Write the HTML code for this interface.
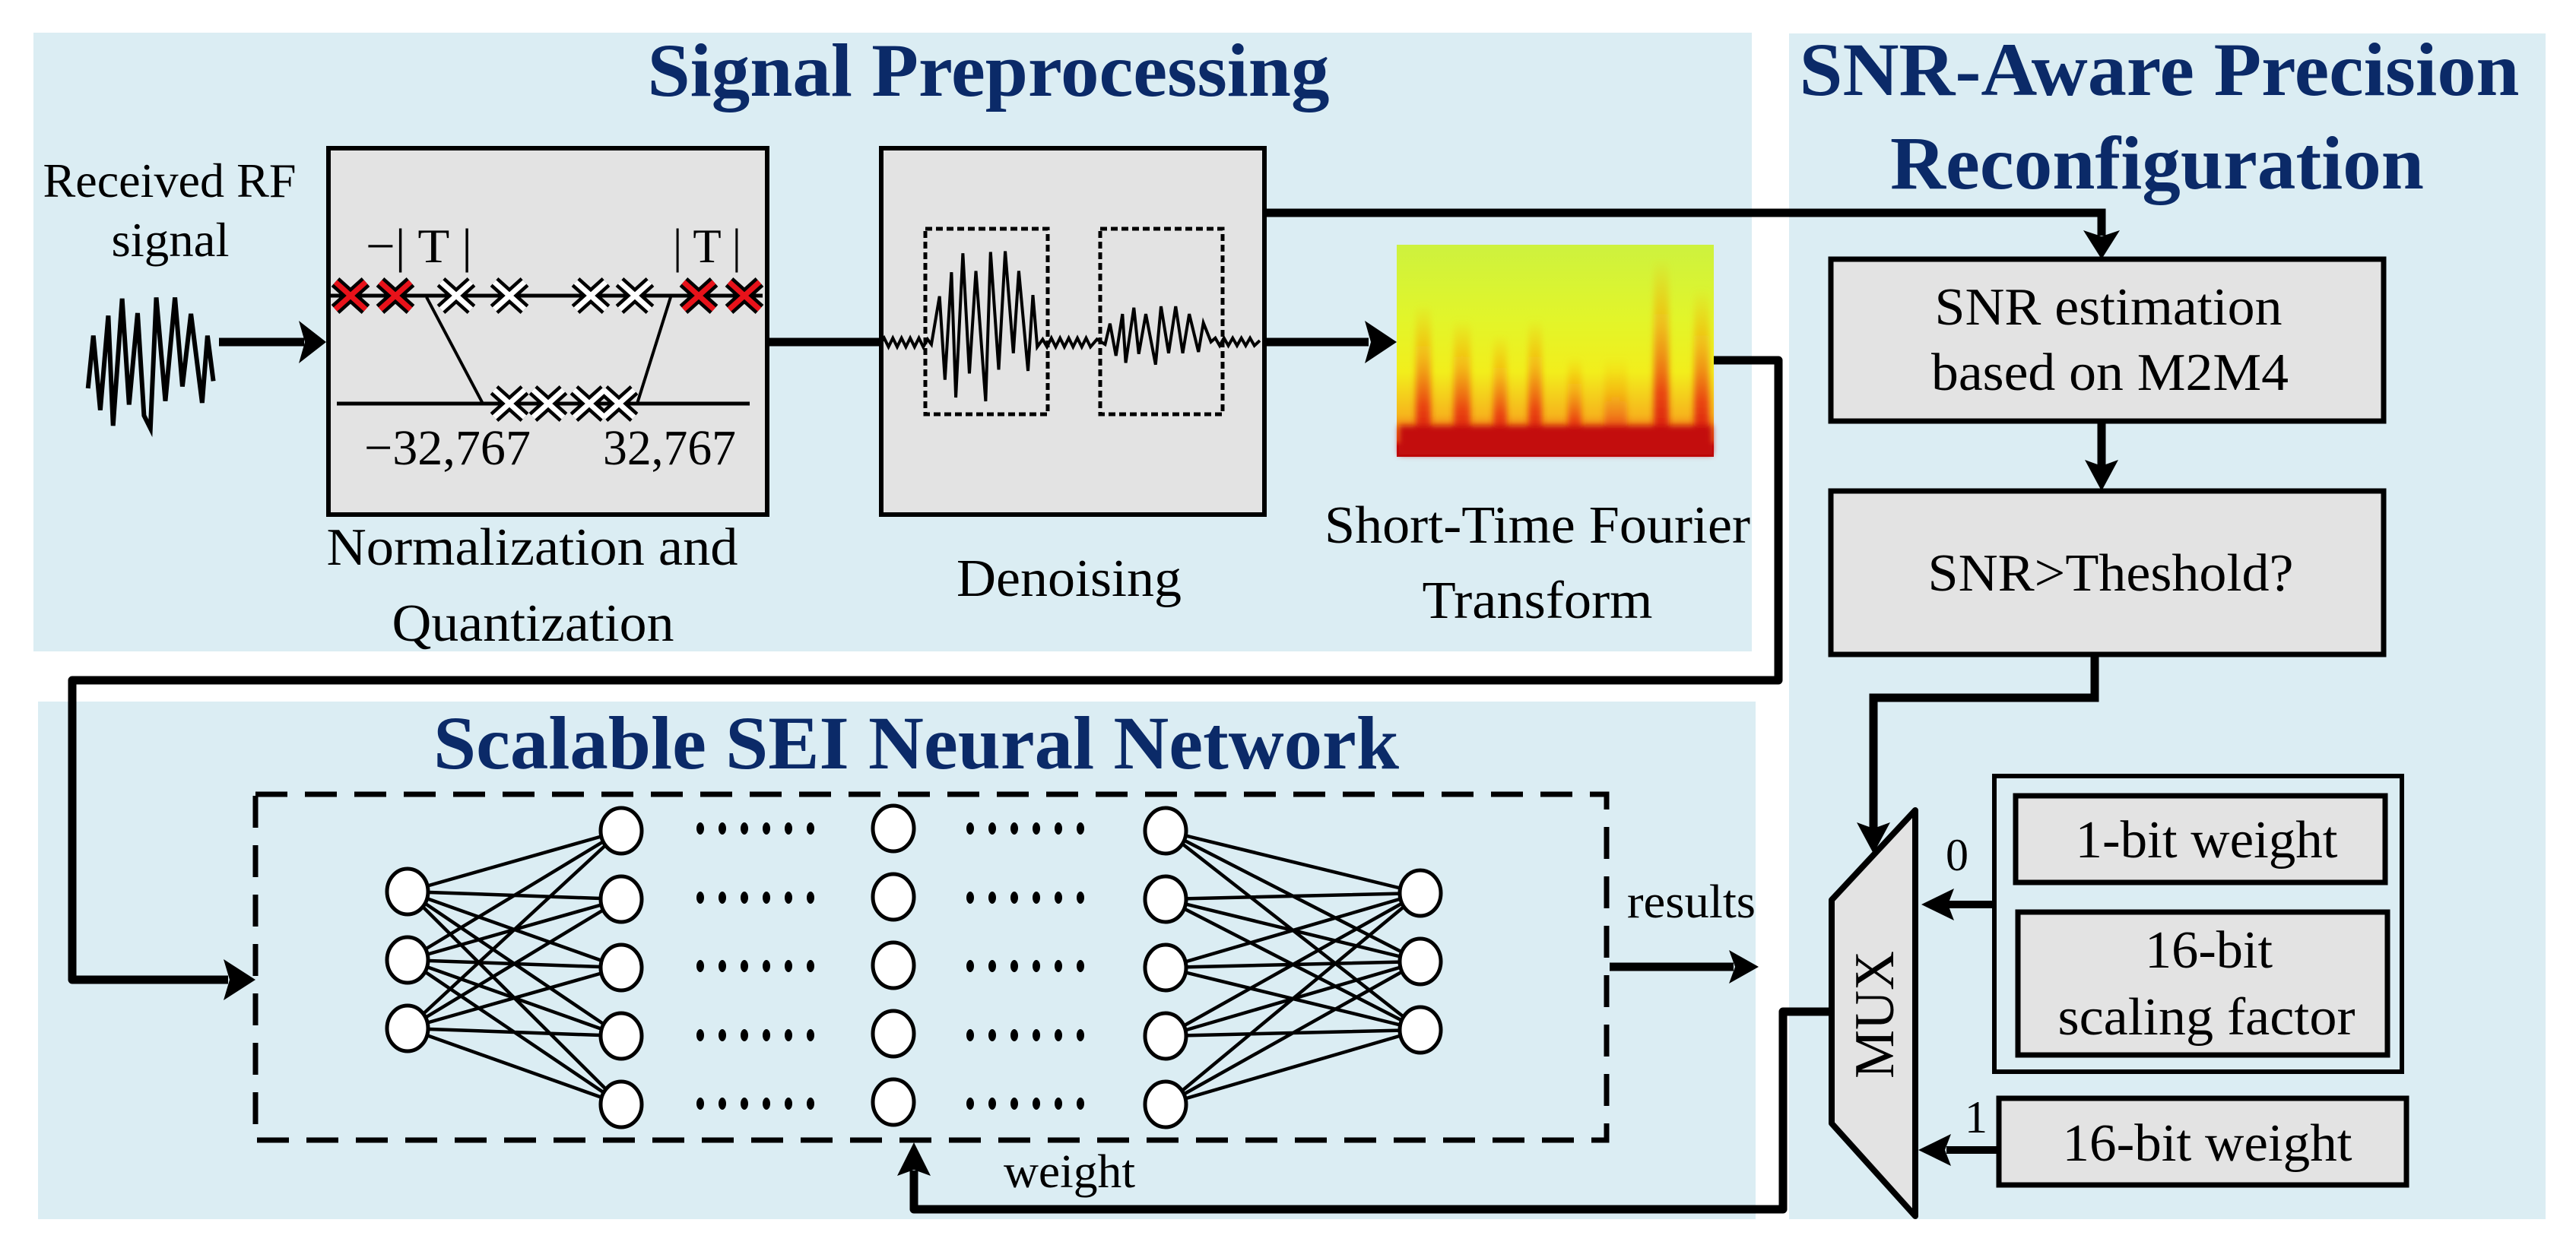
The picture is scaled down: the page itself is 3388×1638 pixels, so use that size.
<!DOCTYPE html>
<html><head><meta charset="utf-8"><style>
html,body{margin:0;padding:0;background:#fff;}
svg{display:block;}
svg text{font-family:"Liberation Serif","Times New Roman","Nimbus Roman","DejaVu Serif",serif !important;fill:#000;}
svg .t{font-weight:bold;fill:#0b2a68;font-size:100px;}
</style></head><body>
<svg width="3388" height="1638" viewBox="0 0 3388 1638" xmlns="http://www.w3.org/2000/svg" font-family="Liberation Serif, Times New Roman, serif">
<defs>
<linearGradient id="sg" x1="0" y1="0" x2="0" y2="1">
<stop offset="0" stop-color="#cdf23e"/>
<stop offset="0.35" stop-color="#e2f52a"/>
<stop offset="0.6" stop-color="#f2ee1c"/>
<stop offset="0.8" stop-color="#f6b61c"/>
<stop offset="0.92" stop-color="#ee5a14"/>
<stop offset="0.95" stop-color="#c80a0a"/>
<stop offset="1" stop-color="#b80808"/>
</linearGradient>
<linearGradient id="st" x1="0" y1="0" x2="0" y2="1">
<stop offset="0" stop-color="#f5a000" stop-opacity="0"/>
<stop offset="0.35" stop-color="#f59a10" stop-opacity="0.6"/>
<stop offset="0.7" stop-color="#e83010" stop-opacity="0.85"/>
<stop offset="1" stop-color="#d01010" stop-opacity="1"/>
</linearGradient>
<filter id="bl"><feGaussianBlur stdDeviation="4"/></filter>
<g id="dots"><ellipse cx="0" cy="0" rx="5" ry="8"/><ellipse cx="29" cy="0" rx="5" ry="8"/><ellipse cx="58" cy="0" rx="5" ry="8"/><ellipse cx="87" cy="0" rx="5" ry="8"/><ellipse cx="116" cy="0" rx="5" ry="8"/><ellipse cx="145" cy="0" rx="5" ry="8"/></g>
</defs>

<rect x="44" y="43" width="2260" height="814" fill="#dbedf3"/>
<rect x="2353" y="44" width="995" height="1560" fill="#dbedf3"/>
<rect x="50" y="923" width="2259" height="681" fill="#dbedf3"/>

<text class="t" x="1300" y="126" text-anchor="middle" textLength="897" lengthAdjust="spacingAndGlyphs">Signal Preprocessing</text>
<text class="t" x="2840" y="125" text-anchor="middle" textLength="947" lengthAdjust="spacingAndGlyphs">SNR-Aware Precision</text>
<text class="t" x="2837" y="248" text-anchor="middle" textLength="702" lengthAdjust="spacingAndGlyphs">Reconfiguration</text>
<text class="t" x="1205" y="1011" text-anchor="middle" textLength="1270" lengthAdjust="spacingAndGlyphs">Scalable SEI Neural Network</text>

<text x="223" y="259" font-size="64" text-anchor="middle" textLength="333" lengthAdjust="spacingAndGlyphs">Received RF</text>
<text x="224" y="337" font-size="64" text-anchor="middle" textLength="155" lengthAdjust="spacingAndGlyphs">signal</text>
<g transform="translate(0,150) scale(0.7015,0.478)">
<polyline fill="none" stroke="#000" stroke-width="6" vector-effect="non-scaling-stroke" points="165,755 175,610 188,815 203,555 212,858 229,508 242,800 258,548 270,830 282,865 293,505 310,790 328,505 342,750 358,550 379,795 389,610 400,735"/>
</g>
<line x1="288" y1="450" x2="400" y2="450" stroke="#000" stroke-width="11"/>
<polygon points="429,450 393,422 401,450 393,478"/>

<rect x="432" y="195" width="577" height="482" fill="#e3e3e3" stroke="#000" stroke-width="6"/>
<line x1="432" y1="389" x2="1003" y2="389" stroke="#000" stroke-width="5"/>
<line x1="443" y1="531" x2="986" y2="531" stroke="#000" stroke-width="5"/>
<line x1="561" y1="391" x2="635" y2="531" stroke="#000" stroke-width="4"/>
<line x1="882" y1="391" x2="838" y2="531" stroke="#000" stroke-width="4"/>
<g>
<g stroke="#000" stroke-width="16">
<path d="M441,371L481,407M481,371L441,407 M500,371L540,407M540,371L500,407 M580,371L620,407M620,371L580,407 M650,371L690,407M690,371L650,407 M757,371L797,407M797,371L757,407 M815,371L855,407M855,371L815,407 M899,371L939,407M939,371L899,407 M959,371L999,407M999,371L959,407"/>
<path d="M650,513L690,549M690,513L650,549 M701,513L741,549M741,513L701,549 M755,513L795,549M795,513L755,549 M794,513L834,549M834,513L794,549"/>
</g>
<g stroke="#fff" stroke-width="7">
<path d="M580,371L620,407M620,371L580,407 M650,371L690,407M690,371L650,407 M757,371L797,407M797,371L757,407 M815,371L855,407M855,371L815,407"/>
<path d="M650,513L690,549M690,513L650,549 M701,513L741,549M741,513L701,549 M755,513L795,549M795,513L755,549 M794,513L834,549M834,513L794,549"/>
</g>
<g stroke="#e8121a" stroke-width="7">
<path d="M441,371L481,407M481,371L441,407 M500,371L540,407M540,371L500,407 M899,371L939,407M939,371L899,407 M959,371L999,407M999,371L959,407"/>
</g>
</g>
<text x="481" y="345" font-size="64" textLength="140" lengthAdjust="spacingAndGlyphs">−| T |</text>
<text x="885" y="345" font-size="64" textLength="90" lengthAdjust="spacingAndGlyphs">| T |</text>
<text x="479" y="611" font-size="66" textLength="219" lengthAdjust="spacingAndGlyphs">−32,767</text>
<text x="793" y="611" font-size="66" textLength="175" lengthAdjust="spacingAndGlyphs">32,767</text>
<text x="700" y="743" font-size="70" text-anchor="middle" textLength="541" lengthAdjust="spacingAndGlyphs">Normalization and</text>
<text x="701" y="843" font-size="70" text-anchor="middle" textLength="371" lengthAdjust="spacingAndGlyphs">Quantization</text>

<line x1="1009" y1="450" x2="1159" y2="450" stroke="#000" stroke-width="11"/>

<rect x="1159" y="195" width="504" height="482" fill="#e3e3e3" stroke="#000" stroke-width="6"/>
<rect x="1217" y="301" width="161" height="244" fill="none" stroke="#000" stroke-width="5" stroke-dasharray="9 5"/>
<rect x="1447" y="301" width="161" height="244" fill="none" stroke="#000" stroke-width="5" stroke-dasharray="9 5"/>
<g transform="translate(1150,180) scale(0.714,0.333)">
<polyline fill="none" stroke="#000" stroke-width="4" vector-effect="non-scaling-stroke" points="10,820 18,795 26,830 34,795 42,830 50,795 58,830 66,795 74,830 82,795 90,830 98,800 105,820 120,630 130,960 142,535 150,1030 163,460 175,935 187,530 205,1045 214,455 229,920 241,452 256,855 266,530 283,925 292,625 300,830 310,800 318,830 326,795 334,830 342,795 350,830 358,795 366,830 374,795 382,830 390,795 398,830 410,800 425,820 434,738 445,865 457,700 463,893 478,675 487,858 500,700 518,900 528,670 542,855 555,670 568,855 580,700 597,850 606,735 620,810 628,795 636,825 644,795 652,825 660,795 668,825 676,795 684,825 692,795 700,825 710,805"/>
</g>
<text x="1406" y="784" font-size="70" text-anchor="middle" textLength="296" lengthAdjust="spacingAndGlyphs">Denoising</text>

<line x1="1663" y1="450" x2="1800" y2="450" stroke="#000" stroke-width="11"/>
<polygon points="1837,450 1795,422 1803,450 1795,478"/>

<g>
<rect x="1837" y="322" width="417" height="279" fill="url(#sg)"/>
<g filter="url(#bl)">
<rect x="1862" y="400" width="20" height="190" fill="url(#st)"/>
<rect x="1912" y="420" width="22" height="170" fill="url(#st)"/>
<rect x="1964" y="440" width="18" height="150" fill="url(#st)"/>
<rect x="2010" y="420" width="18" height="170" fill="url(#st)"/>
<rect x="2062" y="470" width="18" height="120" fill="url(#st)"/>
<rect x="2110" y="470" width="30" height="120" fill="url(#st)" opacity="0.6"/>
<rect x="2175" y="340" width="20" height="250" fill="url(#st)"/>
<rect x="2228" y="380" width="20" height="210" fill="url(#st)"/>
<rect x="1840" y="560" width="412" height="38" fill="#c30808"/>
</g>
</g>
<text x="2022" y="714" font-size="70" text-anchor="middle" textLength="560" lengthAdjust="spacingAndGlyphs">Short-Time Fourier</text>
<text x="2022" y="813" font-size="70" text-anchor="middle" textLength="303" lengthAdjust="spacingAndGlyphs">Transform</text>

<polyline points="2254,474 2339,474 2339,895 95,895 95,1289 300,1289" fill="none" stroke="#000" stroke-width="11" stroke-linejoin="round"/>
<polygon points="336,1289 294,1262 302,1289 294,1316"/>
<polyline points="1663,280 2764,280 2764,310" fill="none" stroke="#000" stroke-width="11"/>
<polygon points="2764,341 2740,303 2764,311 2788,303"/>

<rect x="2408" y="341" width="727" height="213" fill="#e3e3e3" stroke="#000" stroke-width="7"/>
<text x="2773" y="427" font-size="70" text-anchor="middle" textLength="457" lengthAdjust="spacingAndGlyphs">SNR estimation</text>
<text x="2775" y="513" font-size="70" text-anchor="middle" textLength="470" lengthAdjust="spacingAndGlyphs">based on M2M4</text>
<line x1="2764" y1="554" x2="2764" y2="615" stroke="#000" stroke-width="11"/>
<polygon points="2764,646 2742,605 2764,613 2786,605"/>
<rect x="2408" y="646" width="727" height="215" fill="#e3e3e3" stroke="#000" stroke-width="7"/>
<text x="2776" y="777" font-size="70" text-anchor="middle" textLength="481" lengthAdjust="spacingAndGlyphs">SNR&gt;Theshold?</text>
<polyline points="2755,861 2755,918 2464,918 2464,1090" fill="none" stroke="#000" stroke-width="11"/>
<polygon points="2464,1123 2442,1082 2464,1090 2486,1082"/>

<polygon points="2409,1184 2519,1066 2519,1600 2409,1478" fill="#e3e3e3" stroke="#000" stroke-width="8" stroke-linejoin="round"/>
<text transform="translate(2490,1335) rotate(-90)" font-size="74" text-anchor="middle" textLength="168" lengthAdjust="spacingAndGlyphs">MUX</text>

<rect x="2623" y="1021" width="536" height="389" fill="none" stroke="#000" stroke-width="6"/>
<rect x="2651" y="1047" width="486" height="114" fill="#e3e3e3" stroke="#000" stroke-width="7"/>
<text x="2902" y="1128" font-size="70" text-anchor="middle" textLength="345" lengthAdjust="spacingAndGlyphs">1-bit weight</text>
<rect x="2654" y="1200" width="486" height="188" fill="#e3e3e3" stroke="#000" stroke-width="7"/>
<text x="2905" y="1273" font-size="70" text-anchor="middle" textLength="168" lengthAdjust="spacingAndGlyphs">16-bit</text>
<text x="2902" y="1361" font-size="70" text-anchor="middle" textLength="391" lengthAdjust="spacingAndGlyphs">scaling factor</text>
<rect x="2629" y="1445" width="536" height="114" fill="#e3e3e3" stroke="#000" stroke-width="7"/>
<text x="2903" y="1527" font-size="70" text-anchor="middle" textLength="381" lengthAdjust="spacingAndGlyphs">16-bit weight</text>

<line x1="2623" y1="1190" x2="2560" y2="1190" stroke="#000" stroke-width="10"/>
<polygon points="2527,1190 2570,1169 2562,1190 2570,1211"/>
<text x="2574" y="1145" font-size="60" text-anchor="middle">0</text>
<line x1="2629" y1="1513" x2="2560" y2="1513" stroke="#000" stroke-width="10"/>
<polygon points="2523,1513 2566,1492 2558,1513 2566,1534"/>
<text x="2599" y="1490" font-size="60" text-anchor="middle">1</text>

<polyline points="2409,1331 2345,1331 2345,1591 1202,1591 1202,1540" fill="none" stroke="#000" stroke-width="11" stroke-linejoin="round"/>
<polygon points="1202,1503 1180,1547 1202,1539 1224,1547"/>
<text x="1320" y="1562" font-size="62" textLength="173" lengthAdjust="spacingAndGlyphs">weight</text>

<rect x="336" y="1045" width="1777" height="455" fill="none" stroke="#000" stroke-width="7" stroke-dasharray="42 23"/>

<g stroke="#000" stroke-width="4.5">
<path d="M536,1173L817,1093M536,1173L817,1183M536,1173L817,1273M536,1173L817,1363M536,1173L817,1453
M536,1263L817,1093M536,1263L817,1183M536,1263L817,1273M536,1263L817,1363M536,1263L817,1453
M536,1353L817,1093M536,1353L817,1183M536,1353L817,1273M536,1353L817,1363M536,1353L817,1453
M1533,1093L1868,1175M1533,1093L1868,1265M1533,1093L1868,1355
M1533,1183L1868,1175M1533,1183L1868,1265M1533,1183L1868,1355
M1533,1273L1868,1175M1533,1273L1868,1265M1533,1273L1868,1355
M1533,1363L1868,1175M1533,1363L1868,1265M1533,1363L1868,1355
M1533,1453L1868,1175M1533,1453L1868,1265M1533,1453L1868,1355"/>
</g>
<g fill="#fff" stroke="#000" stroke-width="5">
<ellipse cx="536" cy="1173" rx="27" ry="30"/><ellipse cx="536" cy="1263" rx="27" ry="30"/><ellipse cx="536" cy="1353" rx="27" ry="30"/>
<ellipse cx="817" cy="1093" rx="27" ry="30"/><ellipse cx="817" cy="1183" rx="27" ry="30"/><ellipse cx="817" cy="1273" rx="27" ry="30"/><ellipse cx="817" cy="1363" rx="27" ry="30"/><ellipse cx="817" cy="1453" rx="27" ry="30"/>
<ellipse cx="1175" cy="1090" rx="27" ry="30"/><ellipse cx="1175" cy="1180" rx="27" ry="30"/><ellipse cx="1175" cy="1270" rx="27" ry="30"/><ellipse cx="1175" cy="1360" rx="27" ry="30"/><ellipse cx="1175" cy="1450" rx="27" ry="30"/>
<ellipse cx="1533" cy="1093" rx="27" ry="30"/><ellipse cx="1533" cy="1183" rx="27" ry="30"/><ellipse cx="1533" cy="1273" rx="27" ry="30"/><ellipse cx="1533" cy="1363" rx="27" ry="30"/><ellipse cx="1533" cy="1453" rx="27" ry="30"/>
<ellipse cx="1868" cy="1175" rx="27" ry="30"/><ellipse cx="1868" cy="1265" rx="27" ry="30"/><ellipse cx="1868" cy="1355" rx="27" ry="30"/>
</g>
<g fill="#000">
<use href="#dots" x="921" y="1090"/><use href="#dots" x="921" y="1181"/><use href="#dots" x="921" y="1271"/><use href="#dots" x="921" y="1362"/><use href="#dots" x="921" y="1452"/>
<use href="#dots" x="1276" y="1090"/><use href="#dots" x="1276" y="1181"/><use href="#dots" x="1276" y="1271"/><use href="#dots" x="1276" y="1362"/><use href="#dots" x="1276" y="1452"/>
</g>

<text x="2140" y="1207" font-size="62" textLength="169" lengthAdjust="spacingAndGlyphs">results</text>
<line x1="2117" y1="1272" x2="2280" y2="1272" stroke="#000" stroke-width="11"/>
<polygon points="2313,1272 2274,1250 2282,1272 2274,1294"/>
</svg>
</body></html>
